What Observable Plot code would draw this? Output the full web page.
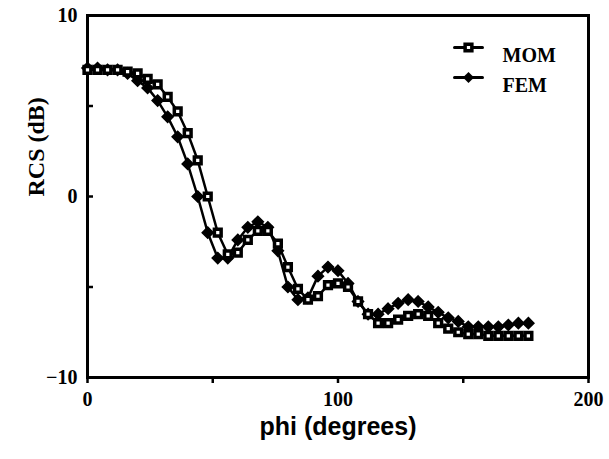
<!DOCTYPE html>
<html><head><meta charset="utf-8">
<script src="https://cdn.jsdelivr.net/npm/d3@7"></script>
<script src="https://cdn.jsdelivr.net/npm/@observablehq/plot@0.6"></script>
<style>html,body{margin:0;padding:0;background:#fff}</style>
</head><body><div id="chart"></div>
<script>
const phi = [0,4,8,12,16,20,24,28,32,36,40,44,48,52,56,60,64,68,72,76,80,84,88,92,96,100,104,108,112,116,120,124,128,132,136,140,144,148,152,156,160,164,168,172,176];
const mom = [7.0,7.0,7.0,7.0,6.9,6.8,6.5,6.2,5.5,4.7,3.5,2.0,0.0,-2.0,-3.2,-3.1,-2.4,-1.9,-1.9,-2.6,-3.9,-5.1,-5.7,-5.5,-4.9,-4.8,-5.0,-5.8,-6.5,-7.0,-7.0,-6.8,-6.6,-6.5,-6.6,-7.0,-7.3,-7.5,-7.6,-7.6,-7.7,-7.7,-7.7,-7.7,-7.7];
const fem = [7.1,7.1,7.0,7.0,6.8,6.4,6.0,5.3,4.4,3.3,1.8,0.0,-2.0,-3.4,-3.4,-2.4,-1.7,-1.4,-1.7,-3.0,-5.0,-5.7,-5.6,-4.4,-3.9,-4.1,-4.8,-5.8,-6.5,-6.5,-6.2,-5.9,-5.7,-5.8,-6.1,-6.4,-6.7,-6.9,-7.2,-7.2,-7.2,-7.2,-7.1,-7.0,-7.0];
const xTicks = [0,50,100,150,200];
const xLabels = [0,100,200];
const yTicks = [-10,-5,0,5,10];
const yLabels = [-10,0,10];
const seriesNames = ["MOM","FEM"];
const xTitle = "phi (degrees)";
const yTitle = "RCS (dB)";

const momData = phi.map((x,i)=>({phi:x, rcs:mom[i]}));
const femData = phi.map((x,i)=>({phi:x, rcs:fem[i]}));

const serif = "'Liberation Serif','DejaVu Serif',serif";
const sans = "'Liberation Sans','DejaVu Sans',sans-serif";
const segment = {draw(ctx, l){ ctx.moveTo(0,0); ctx.lineTo(0,-l); }};

const legendX = -120, legendY = [32, 62];

const chart = Plot.plot({
  width:609, height:459,
  marginLeft:87, marginRight:21, marginTop:15, marginBottom:82,
  x:{domain:[0,200]}, y:{domain:[-10,10]},
  style:{background:"#fff", color:"#000", overflow:"visible"},
  marks:[
    Plot.axisY({ticks:yTicks, tickSize:6, dx:6, tickFormat:()=>"", strokeWidth:2.5, label:null}),
    Plot.axisY({ticks:yLabels, tickSize:0, tickPadding:10, fontSize:20, fontWeight:"bold", fontFamily:serif, label:null}),
    Plot.axisX({ticks:xTicks, tickSize:6, tickFormat:()=>"", strokeWidth:2.5, label:null}),
    Plot.axisX({ticks:xLabels, tickSize:0, tickPadding:14, fontSize:20, fontWeight:"bold", fontFamily:serif, label:null}),
    Plot.text([xTitle], {frameAnchor:"bottom", dy:57, fontSize:25, fontWeight:"bold", fontFamily:sans, fill:"#000"}),
    Plot.text([yTitle], {frameAnchor:"left", dx:-51, rotate:-90, fontSize:24, fontWeight:"bold", fontFamily:serif, fill:"#000"}),
    Plot.frame({stroke:"#000", strokeWidth:3}),
    Plot.line(femData, {x:"phi", y:"rcs", stroke:"#000", strokeWidth:2.5}),
    Plot.line(momData, {x:"phi", y:"rcs", stroke:"#000", strokeWidth:2.5}),
    Plot.dot(femData, {x:"phi", y:"rcs", symbol:"diamond2", r:5, fill:"#000", stroke:"#000", strokeWidth:1.5}),
    Plot.dot(momData, {x:"phi", y:"rcs", symbol:"square", r:3.8, fill:"#fff", stroke:"#000", strokeWidth:3.5}),
    // legend
    Plot.vector([seriesNames[0]], {frameAnchor:"top-right", dx:legendX, dy:legendY[0], length:28, rotate:90, anchor:"middle", shape:segment, stroke:"#000", strokeWidth:3}),
    Plot.dot([seriesNames[0]], {frameAnchor:"top-right", dx:legendX, dy:legendY[0], symbol:"square", r:3.8, fill:"#fff", stroke:"#000", strokeWidth:3.5}),
    Plot.text([seriesNames[0]], {frameAnchor:"top-right", dx:legendX+34, dy:legendY[0], textAnchor:"start", fontSize:20, fontWeight:"bold", fontFamily:serif, fill:"#000"}),
    Plot.vector([seriesNames[1]], {frameAnchor:"top-right", dx:legendX, dy:legendY[1], length:28, rotate:90, anchor:"middle", shape:segment, stroke:"#000", strokeWidth:3}),
    Plot.dot([seriesNames[1]], {frameAnchor:"top-right", dx:legendX, dy:legendY[1], symbol:"diamond2", r:5, fill:"#000"}),
    Plot.text([seriesNames[1]], {frameAnchor:"top-right", dx:legendX+34, dy:legendY[1], textAnchor:"start", fontSize:20, fontWeight:"bold", fontFamily:serif, fill:"#000"})
  ]
});
document.getElementById("chart").appendChild(chart);
</script>
</body></html>
